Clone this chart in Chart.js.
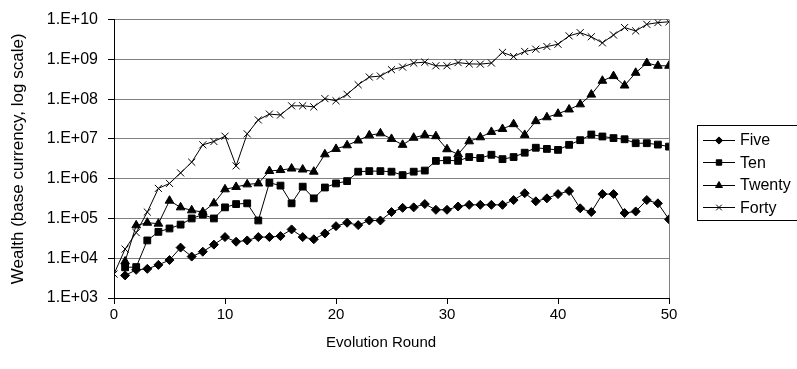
<!DOCTYPE html>
<html>
<head>
<meta charset="utf-8">
<script src="https://cdn.jsdelivr.net/npm/chart.js@4/dist/chart.umd.min.js"></script>
<style>
  html, body { margin: 0; padding: 0; background: #fff; }
  #wrap { width: 797px; height: 369px; position: relative; }
</style>
</head>
<body>
<div id="wrap"><canvas id="c" width="797" height="369"></canvas></div>
<script>
// ---- Data ----
const roundsFrom1 = [1,2,3,4,5,6,7,8,9,10,11,12,13,14,15,16,17,18,19,20,21,22,23,24,25,26,27,28,29,30,31,32,33,34,35,36,37,38,39,40,41,42,43,44,45,46,47,48,49,50];
const roundsFrom0 = [0].concat(roundsFrom1);

const five = [3.7e3,5.1e3,5.4e3,6.8e3,9.0e3,1.85e4,1.1e4,1.46e4,2.2e4,3.4e4,
  2.6e4,2.8e4,3.4e4,3.4e4,3.6e4,5.3e4,3.4e4,3.0e4,4.2e4,6.4e4,
  7.8e4,6.8e4,8.9e4,8.9e4,1.45e5,1.85e5,1.9e5,2.3e5,1.65e5,1.65e5,
  2.0e5,2.2e5,2.2e5,2.2e5,2.2e5,2.9e5,4.3e5,2.7e5,3.2e5,4.1e5,
  4.9e5,1.8e5,1.45e5,4.1e5,4.1e5,1.37e5,1.5e5,2.9e5,2.4e5,9.5e4];

const ten = [5.9e3,6.0e3,2.8e4,4.6e4,5.6e4,7.0e4,1.0e5,1.25e5,1.0e5,1.9e5,
  2.3e5,2.4e5,8.9e4,7.9e5,6.7e5,2.4e5,6.3e5,3.2e5,6.0e5,7.6e5,
  8.7e5,1.5e6,1.55e6,1.55e6,1.5e6,1.23e6,1.5e6,1.6e6,2.8e6,2.9e6,
  2.8e6,3.5e6,3.3e6,4.0e6,3.1e6,3.5e6,4.5e6,6.0e6,5.6e6,5.3e6,
  7.1e6,9.3e6,1.29e7,1.15e7,1.05e7,9.8e6,7.8e6,7.8e6,7.2e6,6.4e6];

const twenty = [8.3e3,6.7e4,7.8e4,7.4e4,2.8e5,1.9e5,1.6e5,1.45e5,2.4e5,5.4e5,
  6.2e5,7.2e5,7.6e5,1.56e6,1.65e6,1.8e6,1.7e6,1.5e6,4.1e6,5.6e6,
  6.9e6,9.1e6,1.23e7,1.38e7,1.0e7,7.1e6,1.07e7,1.26e7,1.17e7,5.5e6,
  4.1e6,8.7e6,1.1e7,1.5e7,1.78e7,2.35e7,1.26e7,2.8e7,3.5e7,4.3e7,
  5.5e7,7.4e7,1.3e8,2.9e8,3.8e8,2.2e8,4.6e8,8.1e8,6.9e8,6.9e8];

const forty = [4.0e3,1.7e4,4.4e4,1.45e5,5.7e5,7.6e5,1.4e6,2.6e6,7.1e6,8.6e6,1.17e7,
  2.1e6,1.34e7,3.0e7,4.2e7,4.0e7,6.8e7,6.8e7,6.4e7,1.03e8,9.1e7,
  1.32e8,2.3e8,3.6e8,3.8e8,5.5e8,6.4e8,8.1e8,8.5e8,6.9e8,6.9e8,
  8.3e8,7.7e8,7.6e8,8.1e8,1.5e9,1.18e9,1.58e9,1.8e9,2.1e9,2.4e9,
  3.9e9,4.7e9,3.7e9,2.6e9,4.1e9,6.3e9,5.2e9,7.6e9,8.4e9,8.8e9];

const seriesNames = ['Five','Ten','Twenty','Forty'];
const yDecades = [3,4,5,6,7,8,9,10];
const xTitle = 'Evolution Round';
const yTitle = 'Wealth (base currency, log scale)';

// ---- Build chart ----
const FONT = "'Liberation Sans', Arial, sans-serif";
function pts(xs, ys) { return ys.map((v, i) => ({x: xs[i], y: v})); }

const styles = [
  {pointStyle: 'rectRot', radius: 4.5},
  {pointStyle: 'rect', radius: 4.8},
  {pointStyle: 'triangle', radius: 5},
  {pointStyle: 'crossRot', radius: 5}
];
const seriesData = [pts(roundsFrom1, five), pts(roundsFrom1, ten), pts(roundsFrom1, twenty), pts(roundsFrom0, forty)];

const datasets = seriesNames.map((name, i) => ({
  label: name,
  data: seriesData[i],
  showLine: true,
  borderColor: '#000',
  backgroundColor: '#000',
  borderWidth: 1,
  pointStyle: styles[i].pointStyle,
  pointRadius: styles[i].radius,
  pointHoverRadius: styles[i].radius,
  pointBorderColor: '#000',
  pointBackgroundColor: '#000',
  pointBorderWidth: 1,
  order: 3 - i
}));

const frame = {
  id: 'frame',
  beforeDatasetsDraw(chart) {
    const {ctx, chartArea: a} = chart;
    ctx.save();
    ctx.strokeStyle = '#808080';
    ctx.lineWidth = 1;
    ctx.beginPath();
    ctx.moveTo(Math.round(a.right) + 0.5, a.top);
    ctx.lineTo(Math.round(a.right) + 0.5, a.bottom);
    ctx.stroke();
    ctx.restore();
  },
  afterDraw(chart) {
    const ctx = chart.ctx;
    const bx = 697, by = 125, bw = 110, bh = 95;
    ctx.save();
    ctx.fillStyle = '#fff';
    ctx.fillRect(bx, by, bw, bh);
    ctx.strokeStyle = '#000';
    ctx.lineWidth = 1;
    ctx.strokeRect(bx + 0.5, by + 0.5, bw, bh);
    ctx.font = '16px ' + FONT;
    ctx.textBaseline = 'middle';
    ctx.fillStyle = '#000';
    chart.data.datasets.forEach((ds, i) => {
      const y = by + 15 + i * 22.4;
      ctx.beginPath();
      ctx.moveTo(703, Math.round(y) + 0.5);
      ctx.lineTo(735, Math.round(y) + 0.5);
      ctx.strokeStyle = '#000';
      ctx.lineWidth = 1;
      ctx.stroke();
      if (Chart.helpers && Chart.helpers.drawPoint) {
        Chart.helpers.drawPoint(ctx, {pointStyle: ds.pointStyle, radius: ds.pointRadius * 0.8, borderWidth: 1, rotation: 0}, 719, Math.round(y) + 0.5);
      }
      ctx.fillStyle = '#000';
      ctx.fillText(ds.label, 740, y + 1);
    });
    ctx.restore();
  }
};

new Chart(document.getElementById('c'), {
  type: 'scatter',
  data: { datasets },
  options: {
    responsive: false,
    animation: false,
    events: [],
    layout: { padding: { left: 0, top: 16, right: 128, bottom: 0 } },
    plugins: { legend: { display: false }, tooltip: { enabled: false } },
    scales: {
      x: {
        type: 'linear', min: 0, max: 50,
        ticks: { stepSize: 10, color: '#000', font: { family: FONT, size: 15 }, padding: 2, maxRotation: 0 },
        grid: { drawOnChartArea: false, drawTicks: true, tickLength: 6, tickColor: '#000', color: '#000' },
        border: { display: true, color: '#000', width: 1 },
        title: { display: true, text: xTitle + '\u00A0\u00A0\u00A0\u00A0\u00A0', color: '#000', font: { family: FONT, size: 15 }, padding: { top: 0, bottom: 17 } },
        afterFit(s) { s.height = 71; }
      },
      y: {
        type: 'logarithmic', min: 1e3, max: 1e10,
        afterBuildTicks(s) { s.ticks = yDecades.map(e => ({ value: Math.pow(10, e) })); },
        ticks: {
          color: '#000', font: { family: FONT, size: 16 }, padding: 10,
          callback: (v) => '1.E+' + String(Math.round(Math.log10(v))).padStart(2, '0')
        },
        grid: { color: '#808080', tickColor: '#000', tickLength: 6, lineWidth: 1 },
        border: { display: true, color: '#000', width: 1 },
        title: { display: true, text: yTitle, color: '#000', font: { family: FONT, size: 17 }, padding: { top: 8, bottom: 0 } },
        afterFit(s) { s.width = 114; }
      }
    }
  },
  plugins: [frame]
});
</script>
</body>
</html>
